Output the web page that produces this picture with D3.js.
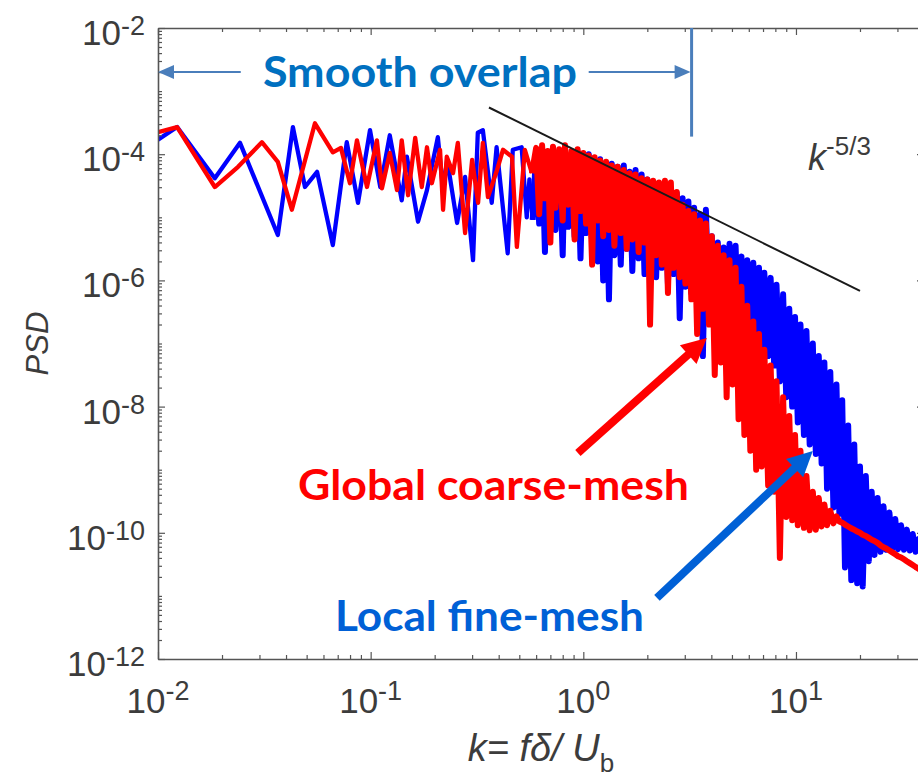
<!DOCTYPE html>
<html><head><meta charset="utf-8">
<script src="https://cdn.jsdelivr.net/npm/d3@7"></script>
<style>body{margin:0;background:#fff}svg{display:block}</style>
</head><body><svg id="chart" width="918" height="781"></svg>
<script>
// ---------------- data ----------------
// low-frequency part, individual spectral points: k and log10(PSD)
const redLowK = [0.0100,0.0123,0.0185,0.0238,0.0308,0.0366,0.0426,0.0547,0.0664,0.0725,0.0799,0.0862,0.0961,0.107,0.113,0.123,0.133,0.140,0.150,0.162,0.174,0.184,0.194,0.212,0.219,0.228,0.244,0.257,0.278,0.300,0.320,0.337,0.356,0.393,0.419,0.462,0.487,0.531,0.573];
const redLowExp = [-3.65,-3.57,-4.52,-4.20,-3.81,-4.12,-4.88,-3.51,-3.97,-3.90,-4.46,-3.78,-4.52,-3.78,-4.54,-3.98,-4.57,-3.78,-4.65,-3.74,-4.52,-3.89,-4.46,-3.93,-4.88,-4.04,-4.30,-3.82,-5.25,-4.09,-4.77,-3.82,-4.68,-4.25,-3.93,-4.04,-5.47,-3.93,-4.30];
const blueLowK = [0.0100,0.0123,0.0185,0.0243,0.0366,0.0431,0.0491,0.0560,0.0664,0.0772,0.0872,0.0993,0.111,0.123,0.140,0.148,0.167,0.184,0.207,0.219,0.229,0.255,0.278,0.303,0.319,0.337,0.371,0.391,0.441,0.466,0.513,0.542,0.558,0.578];
const blueLowExp = [-3.77,-3.57,-4.38,-3.82,-5.28,-3.57,-4.52,-4.28,-5.44,-3.81,-4.77,-3.62,-4.52,-3.70,-4.73,-4.04,-5.07,-4.57,-3.73,-4.57,-4.09,-5.09,-4.36,-5.68,-3.66,-3.62,-4.77,-3.89,-5.57,-3.93,-3.89,-5.00,-4.40,-5.04];

// dense part (k shared by both spectra), log10(PSD) alternating peaks / troughs
const denseK = [0.60,0.62,0.64,0.66,0.68,0.70,0.72,0.74,0.77,0.80,0.82,0.85,0.88,0.91,0.94,0.97,1.00,1.03,1.06,1.10,1.13,1.17,1.20,1.24,1.28,1.32,1.36,1.40,1.45,1.50,1.55,1.60,1.65,1.70,1.76,1.82,1.88,1.94,2.00,2.06,2.13,2.20,2.27,2.34,2.42,2.50,2.58,2.66,2.75,2.84,2.93,3.02,3.12,3.22,3.32,3.43,3.54,3.65,3.77,3.90,4.02,4.15,4.29,4.43,4.57,4.72,4.87,5.03,5.20,5.37,5.54,5.72,5.90,6.10,6.30,6.50,6.70,6.90,7.10,7.40,7.60,7.90,8.10,8.40,8.70,9.00,9.30,9.60,9.90,10.2,10.5,10.9,11.2,11.6,12.0,12.4,12.8,13.2,13.6,14.0,14.5,15.0,15.5,16.0,16.5,17.0,17.6,18.2,18.8,19.4,20.0,20.6,21.3,22.0,22.7,23.4,24.2,25.0,25.8,26.6,27.5,28.4,29.3,30.2,31.2,32.2,33.2,34.3,35.4,36.5,37.7,39.0];
const redDenseExp = [
-3.90,-4.95,-3.86,-4.70,-3.95,-5.40,-3.88,-4.85,
-3.92,-5.05,-3.86,-4.80,-3.95,-5.35,-3.92,-4.90,
-3.98,-5.10,-4.02,-5.75,-4.05,-5.05,-4.10,-5.30,
-4.12,-5.20,-4.18,-5.45,-4.20,-5.25,-4.25,-5.50,
-4.30,-5.35,-4.32,-5.55,-4.38,-5.40,-4.40,-6.70,
-4.42,-5.60,-4.45,-5.75,-4.42,-6.20,-4.45,-5.80,
-4.60,-5.95,-4.80,-6.05,-4.90,-6.30,-4.95,-6.85,
-5.05,-6.45,-5.10,-6.70,-5.30,-7.50,-5.45,-7.30,
-5.60,-7.85,-5.68,-7.65,-5.80,-8.20,-6.10,-8.45,
-6.40,-8.70,-6.65,-9.00,-6.85,-8.95,-7.10,-9.25,
-7.35,-9.35,-7.60,-10.40,-7.85,-9.75,-8.15,-9.80,
-8.45,-9.88,-8.70,-9.92,-9.10,-9.96,-9.35,-9.95,
-9.45,-9.90,-9.55,-9.88,-9.65,-9.85,-9.74,-9.82,
-9.84,-9.87,-9.90,-9.93,-9.95,-9.98,-10.00,-10.03,
-10.05,-10.08,-10.11,-10.13,-10.16,-10.20,-10.23,-10.25,
-10.28,-10.31,-10.34,-10.37,-10.39,-10.42,-10.45,-10.48,
-10.51,-10.54,-10.57,-10.60];
const blueDenseExp = [
-3.95,-5.10,-3.92,-5.55,-4.00,-5.00,-3.90,-5.20,
-3.98,-5.60,-3.95,-5.15,-4.02,-5.30,-3.96,-5.65,
-4.05,-5.25,-4.00,-5.40,-4.10,-5.70,-4.08,-6.00,
-4.15,-6.30,-4.15,-5.60,-4.20,-5.75,-4.18,-5.50,
-4.28,-5.85,-4.25,-5.65,-4.32,-5.90,-4.40,-5.70,
-4.45,-5.95,-4.50,-5.80,-4.55,-6.05,-4.55,-5.90,
-4.62,-6.60,-4.70,-6.10,-4.75,-6.20,-4.85,-6.35,
-4.95,-7.20,-4.88,-6.45,-5.30,-6.50,-5.40,-6.60,
-5.48,-6.70,-5.42,-6.80,-5.45,-6.85,-5.62,-6.95,
-5.68,-7.00,-5.72,-7.05,-5.80,-7.10,-5.88,-7.20,
-5.96,-7.35,-6.07,-7.60,-6.22,-7.85,-6.45,-8.00,
-6.58,-8.25,-6.70,-8.45,-6.80,-8.60,-7.00,-8.75,
-7.20,-8.90,-7.30,-9.30,-7.45,-9.60,-7.65,-9.70,
-7.90,-10.55,-8.30,-10.75,-8.60,-10.80,-8.95,-10.85,
-9.10,-10.45,-9.35,-10.35,-9.45,-10.30,-9.58,-10.27,
-9.68,-10.25,-9.78,-10.26,-9.88,-10.27,-9.95,-10.28,
-10.02,-10.30,-10.10,-10.32];

// k^-5/3 reference line end points
const slopeK = [0.36, 20];
const slopePsd = [5.5e-4, 6.8e-7];

// tick labels (powers of ten)
const xTickExponents = [-2, -1, 0, 1];
const yTickExponents = [-2, -4, -6, -8, -10, -12];

// annotations, in data coordinates
const overlapArrowY = 2.0e-3;
const overlapLeftTailK = 0.0245;
const overlapRightTailK = 1.06;
const overlapEdgeK = 3.23;
const overlapEdgeBottomPsd = 1.9e-4;
const redArrow = {k1: 0.943, p1: 1.84e-9, k2: 3.81, p2: 1.22e-7};
const blueArrow = {k1: 2.22, p1: 9.3e-12, k2: 12.0, p2: 1.98e-9};
const labels = [
  {text: "Smooth overlap", k: 0.1705, p: 1.16e-3, color: "#0070C0", width: 314},
  {text: "Global coarse-mesh", k: 0.378, p: 3.3e-10, color: "#FF0000", width: 391},
  {text: "Local fine-mesh", k: 0.362, p: 2.78e-12, color: "#0060D6", width: 309}
];
const slopeLabel = {k: 11.4, p: 5.6e-5};

// ---------------- drawing ----------------
const svg = d3.select("#chart");
const x = d3.scaleLog().domain([0.01, 40]).range([158, 924]);
const y = d3.scaleLog().domain([1e-12, 1e-2]).range([659, 28]);
const [x0, x1] = x.range();
const [y0, y1] = [y.range()[1], y.range()[0]]; // top, bottom
const axisColor = "#555";
const textColor = "#3c3c3c";
const tickFont = "'Liberation Sans', Arial, Helvetica, sans-serif";

svg.append("defs").append("clipPath").attr("id", "plotClip")
  .append("rect").attr("x", x0).attr("y", y0).attr("width", x1 - x0).attr("height", y1 - y0);

const toPts = (ks, es) => ks.map((k, i) => ({k: k, p: Math.pow(10, es[i])}));
const blueLow = toPts(blueLowK, blueLowExp), blueDense = toPts(denseK, blueDenseExp);
const redLow = toPts(redLowK, redLowExp), redDense = toPts(denseK, redDenseExp);

const line = d3.line().x(d => x(d.k)).y(d => y(d.p));
const plot = svg.append("g").attr("clip-path", "url(#plotClip)");
function drawSpectrum(low, dense, color) {
  // the sparse low-frequency points and the very dense high-frequency part (thousands of
  // FFT bins in the original, shown here as a thicker zig-zag so that it reads as a solid band)
  plot.append("path").datum(low).attr("d", line)
    .attr("fill", "none").attr("stroke", color).attr("stroke-width", 4.3).attr("stroke-linejoin", "round");
  plot.append("path").datum([low[low.length - 1]].concat(dense)).attr("d", line)
    .attr("fill", "none").attr("stroke", color).attr("stroke-width", 6).attr("stroke-linejoin", "round");
}
drawSpectrum(blueLow, blueDense, "#0000FF");
drawSpectrum(redLow, redDense, "#FF0000");
plot.append("path").datum(slopeK.map((k, i) => ({k: k, p: slopePsd[i]}))).attr("d", line)
  .attr("fill", "none").attr("stroke", "#1a1a1a").attr("stroke-width", 2);

// axes
const logInt = v => Math.abs(Math.log10(v) - Math.round(Math.log10(v))) < 1e-9;
const xAll = x.ticks();
const xMajor = xAll.filter(logInt), xMinor = xAll.filter(v => !logInt(v));
const yAll = y.ticks(30);
const yMajor = yAll.filter(v => logInt(v) && Math.round(Math.log10(v)) % 2 === 0);
const yMinor = yAll.filter(v => !(logInt(v) && Math.round(Math.log10(v)) % 2 === 0));

function addAxis(fn, scale, vals, size, tr, keepDomain) {
  const g = svg.append("g").attr("transform", tr)
    .call(fn(scale).tickValues(vals).tickSize(size).tickSizeOuter(0).tickFormat(""));
  g.selectAll(".tick line").attr("stroke", axisColor).attr("stroke-width", 1.2);
  if (keepDomain) g.select(".domain").attr("stroke", axisColor).attr("stroke-width", 1.6);
  else g.select(".domain").remove();
}
addAxis(d3.axisBottom, x, xMinor, -4, `translate(0,${y1})`, true);
addAxis(d3.axisBottom, x, xMajor, -7, `translate(0,${y1})`, false);
addAxis(d3.axisTop, x, xMinor, -4, `translate(0,${y0})`, true);
addAxis(d3.axisTop, x, xMajor, -7, `translate(0,${y0})`, false);
addAxis(d3.axisLeft, y, yMinor, -4, `translate(${x0},0)`, true);
addAxis(d3.axisLeft, y, yMajor, -7, `translate(${x0},0)`, false);
addAxis(d3.axisRight, y, yMinor, -4, `translate(${x1},0)`, true);
addAxis(d3.axisRight, y, yMajor, -7, `translate(${x1},0)`, false);

// tick labels
xTickExponents.forEach(e => {
  const t = svg.append("text").attr("x", x(Math.pow(10, e))).attr("y", y1 + 54)
    .attr("text-anchor", "middle").attr("font-family", tickFont).attr("font-size", 35).attr("fill", textColor);
  t.append("tspan").text("10");
  t.append("tspan").attr("dy", -13).attr("font-size", 27).text(String(e));
});
yTickExponents.forEach(e => {
  const t = svg.append("text").attr("x", x0 - 13).attr("y", y(Math.pow(10, e)) + 17)
    .attr("text-anchor", "end").attr("font-family", tickFont).attr("font-size", 35).attr("fill", textColor);
  t.append("tspan").text("10");
  t.append("tspan").attr("dy", -10).attr("font-size", 27).text(String(e));
});

// axis titles
const xt = svg.append("text").attr("x", (x0 + x1) / 2).attr("y", 761).attr("text-anchor", "middle")
  .attr("font-family", tickFont).attr("font-size", 38).attr("font-style", "italic").attr("fill", textColor);
xt.append("tspan").text("k= fδ/ U");
xt.append("tspan").attr("dy", 11).attr("font-size", 26).attr("font-style", "normal").text("b");

svg.append("text").attr("transform", `translate(48,${(y0 + y1) / 2}) rotate(-90)`)
  .attr("text-anchor", "middle").attr("font-family", tickFont).attr("font-size", 31)
  .attr("font-style", "italic").attr("fill", textColor).text("PSD");

// k^-5/3 label
const sl = svg.append("text").attr("x", x(slopeLabel.k)).attr("y", y(slopeLabel.p))
  .attr("font-family", tickFont).attr("font-size", 36).attr("fill", textColor);
sl.append("tspan").attr("font-style", "italic").text("k");
sl.append("tspan").attr("dy", -15).attr("font-size", 26).text("-5/3");

// arrows
function arrow(xa, ya, xb, yb, width, headLen, headHalf, color) {
  const dx = xb - xa, dy = yb - ya, L = Math.hypot(dx, dy), ux = dx / L, uy = dy / L, nx = -uy, ny = ux;
  const bx = xb - ux * headLen, by = yb - uy * headLen;
  svg.append("line").attr("x1", xa).attr("y1", ya).attr("x2", bx + ux * 2).attr("y2", by + uy * 2)
    .attr("stroke", color).attr("stroke-width", width);
  svg.append("polygon").attr("fill", color)
    .attr("points", [[xb, yb], [bx + nx * headHalf, by + ny * headHalf], [bx - nx * headHalf, by - ny * headHalf]]
      .map(p => p.join(",")).join(" "));
}
const ovY = y(overlapArrowY);
const steel = "#4A7EBB";
arrow(x(overlapLeftTailK), ovY, x(0.01), ovY, 2, 16, 7, steel);
arrow(x(overlapRightTailK), ovY, x(overlapEdgeK) - 1, ovY, 2, 16, 7, steel);
svg.append("line").attr("x1", x(overlapEdgeK)).attr("x2", x(overlapEdgeK))
  .attr("y1", y(1e-2)).attr("y2", y(overlapEdgeBottomPsd)).attr("stroke", steel).attr("stroke-width", 3);
arrow(x(redArrow.k1), y(redArrow.p1), x(redArrow.k2), y(redArrow.p2), 8, 25, 12.5, "#FF0000");
arrow(x(blueArrow.k1), y(blueArrow.p1), x(blueArrow.k2), y(blueArrow.p2), 8, 25, 12.5, "#0060D6");

// annotation texts
labels.forEach(l => {
  svg.append("text").attr("x", x(l.k)).attr("y", y(l.p)).attr("text-anchor", "middle")
    .attr("font-family", "Lato, 'Open Sans', sans-serif").attr("font-weight", 700).attr("font-size", 42)
    .attr("fill", l.color).attr("textLength", l.width).attr("lengthAdjust", "spacingAndGlyphs").text(l.text);
});
</script>
</body></html>
